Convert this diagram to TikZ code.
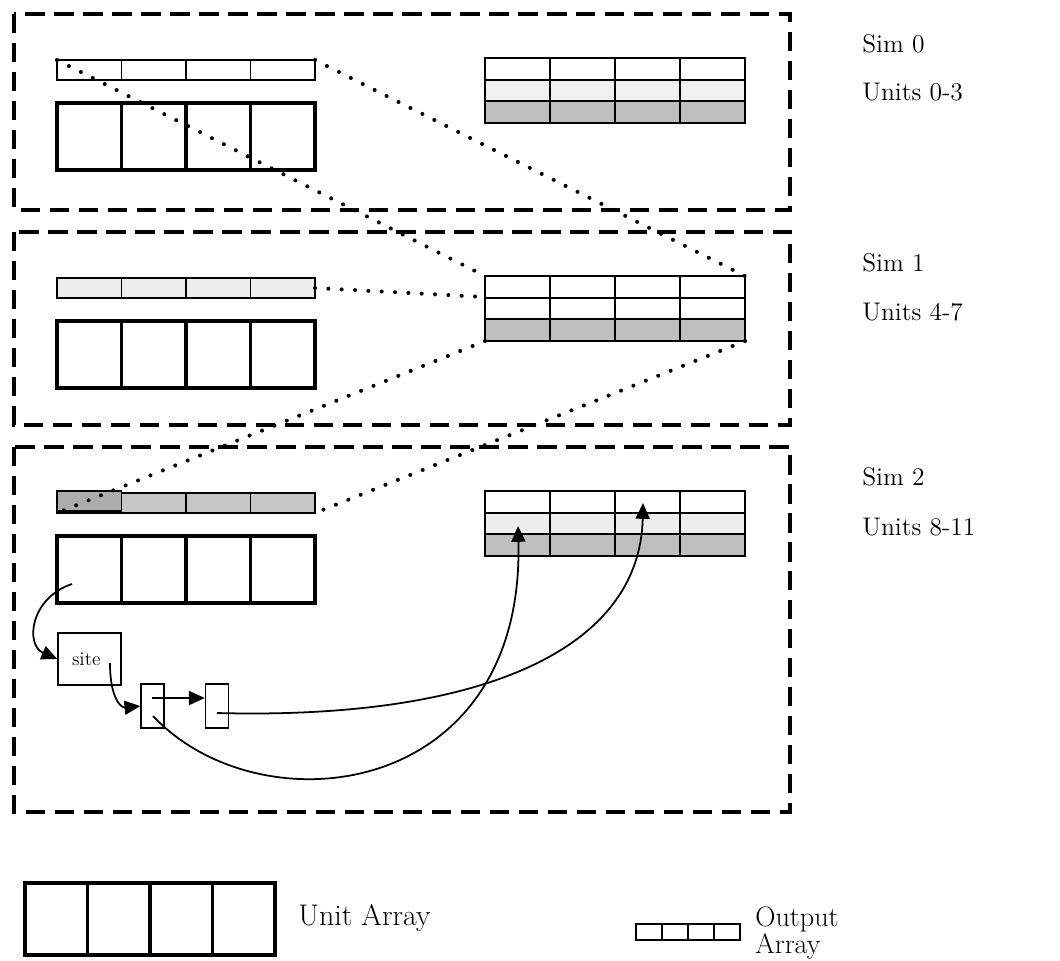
\documentclass[tikz,border=0pt]{standalone}
\usetikzlibrary{arrows.meta,positioning}
\tikzset{
	simbox/.style={line width=2.2pt,dash pattern=on 11pt off 5.5pt},
	unitcell/.style={draw,line width=2pt},
	outcell/.style={draw,line width=0.8pt},
	tabcell/.style={draw,line width=1.1pt},
	dotline/.style={line width=2.3pt,line cap=round,dash pattern=on 0pt off 7.6pt},
	link/.style={line width=1pt,-{Triangle[length=9pt,width=8pt]}},
	ptrbox/.style={draw,line width=0.8pt,minimum width=0.46cm,minimum height=0.88cm,inner sep=0pt},
	simlbl/.style={anchor=west,inner sep=0pt,font=\fontsize{14.5}{16}\selectfont},
}
\begin{document}
	\begin{tikzpicture}[x=0.02cm,y=-0.02cm]
		\useasboundingbox (0,0) rectangle (1060,960);
		% the three simulators: top edge / bottom edge / fill of output array / fill of middle table row
		\foreach \s/\t/\b/\ofill/\mfill in {0/14/210/white/gray!12,1/232/425/gray!15/white,2/447/812/gray!45/gray!14} {
			\draw [simbox] (14,\t) rectangle (790,\b);
			% output array
			\foreach \i in {0,...,3}
				\draw [outcell,fill=\ofill] (57+64.5*\i,\t+46) rectangle ++(64.5,20);
			\coordinate (o\s-nw) at (57,\t+46);
			\coordinate (o\s-ne) at (315,\t+46);
			\coordinate (o\s-e) at (315,\t+56);
			\coordinate (o\s-sw) at (57,\t+66);
			\coordinate (o\s-se) at (315,\t+66);
			% unit array
			\foreach \i in {0,...,3}
				\draw [unitcell] (57+64.5*\i,\t+89) rectangle ++(64.5,67);
			% table of outputs from the other simulators
			\foreach \i in {0,...,3} {
				\draw [tabcell] (485+65*\i,\t+44) rectangle ++(65,22);
				\draw [tabcell,fill=\mfill] (485+65*\i,\t+66) rectangle ++(65,21);
				\draw [tabcell,fill=gray!50] (485+65*\i,\t+87) rectangle ++(65,22);
			}
			\coordinate (t\s-nw) at (485,\t+44);
			\coordinate (t\s-ne) at (745,\t+44);
			\coordinate (t\s-w) at (485,\t+65);
			\coordinate (t\s-sw) at (485,\t+109);
			\coordinate (t\s-se) at (745,\t+109);
		}
		\fill [gray!65] (57,491) rectangle (121.5,511);
		\draw [outcell] (57,491) rectangle (121.5,511);
		% labels
		\node [simlbl] (sim0) at (862,44) {Sim 0};
		\node [simlbl] (units0) at (862,92) {Units 0-3};
		\node [simlbl] (sim1) at (862,263) {Sim 1};
		\node [simlbl] (units1) at (862,312) {Units 4-7};
		\node [simlbl] (sim2) at (862,477) {Sim 2};
		\node [simlbl] (units2) at (862,527) {Units 8-11};
		% copies of the output arrays
		\draw [dotline] (o0-nw) -- (t1-nw);
		\draw [dotline] (o0-ne) -- (t1-ne);
		\draw [dotline] (o1-e) -- (t1-w);
		\draw [dotline] (t1-sw) -- (o2-sw);
		\draw [dotline] (t1-se) -- (o2-se);
		% site and link list of unit 8
		\node [draw,line width=0.8pt,minimum width=1.26cm,minimum height=1.04cm,inner sep=0pt,font=\fontsize{11}{12}\selectfont] (site) at (89.5,659) {site\,\,};
		\node [ptrbox] (ptr1) at (152.5,706) {};
		\node [ptrbox] (ptr2) at (217,706) {};
		\coordinate (u8) at (72,584);
		\coordinate (site-p) at (110,663);
		\coordinate (ptr1-a) at (152,698);
		\coordinate (ptr1-b) at (153,716);
		\coordinate (ptr2-a) at (217,713);
		\coordinate (in0) at (518,526);
		\coordinate (in2) at (643,503);
		\draw [link] (u8) .. controls (30,598) and (25,645) .. (site.west);
		\draw [link] (site-p) .. controls (110,700) and (122,708) .. (ptr1.west);
		\draw [link] (ptr1-a) -- (ptr2.west |- ptr1-a);
		\draw [link] (ptr2-a) .. controls (480,720) and (640,650) .. (in2);
		\draw [link] (ptr1-b) .. controls (260,830) and (525,800) .. (in0);
		% key
		\foreach \i in {0,...,3}
			\draw [unitcell] (25+62.5*\i,883) rectangle ++(62.5,72);
		\node [anchor=west,inner sep=0pt,font=\fontsize{17}{19}\selectfont] (keyunit) at (298,918) {Unit Array};
		\foreach \i in {0,...,3}
			\draw [outcell] (636+26*\i,924) rectangle ++(26,16);
		\node [anchor=north west,inner sep=0pt,align=left,font=\fontsize{16}{14}\selectfont] (keyout) at (755,906) {Output\\Array};
	\end{tikzpicture}
\end{document}
